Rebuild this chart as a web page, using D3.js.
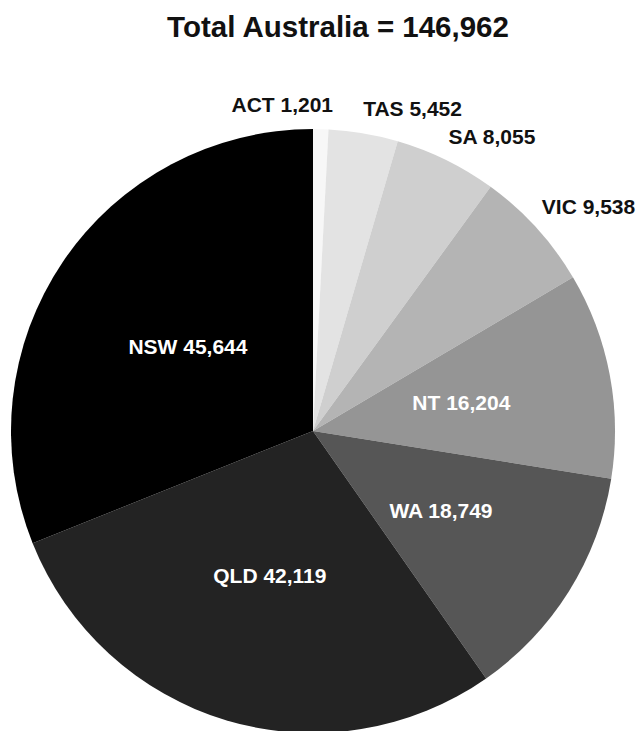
<!DOCTYPE html>
<html>
<head>
<meta charset="utf-8">
<script src="https://cdn.jsdelivr.net/npm/d3@7/dist/d3.min.js"></script>
<style>
  html, body { margin: 0; padding: 0; background: #fff; }
  svg { display: block; }
  text { font-family: "Liberation Sans", Arial, sans-serif; font-weight: bold; }
</style>
</head>
<body>
<svg id="chart" width="644" height="731"></svg>
<script>
// Offences by state/territory, clockwise from 12 o'clock
const states = ["ACT", "TAS", "SA", "VIC", "NT", "WA", "QLD", "NSW"];
const counts = [1201, 5452, 8055, 9538, 16204, 18749, 42119, 45644];
const fills  = ["#f7f7f7", "#e3e3e3", "#cfcfcf", "#b4b4b4", "#959595", "#565656", "#232323", "#000000"];
// Labels drawn inside their slice (the rest sit outside the rim)
const insideStates = ["NT", "WA", "QLD", "NSW"];
const titleText = "Total Australia = 146,962";

const cx = 313, cy = 431, R = 302;
const fmt = d3.format(",");

const svg = d3.select("#chart");

svg.append("text")
  .attr("x", 338).attr("y", 37)
  .attr("text-anchor", "middle")
  .attr("font-size", 29.5)
  .attr("fill", "#111")
  .text(titleText);

const data = states.map((s, i) => ({ state: s, value: counts[i], fill: fills[i] }));

const pie = d3.pie().sort(null).value(d => d.value);
const arcs = pie(data);

const arc = d3.arc().innerRadius(0).outerRadius(R);
const midArc = d3.arc().innerRadius(R * 0.5).outerRadius(R * 0.5);
const rimArc = d3.arc().innerRadius(R + 10).outerRadius(R + 10);

const g = svg.append("g").attr("transform", `translate(${cx},${cy})`);

g.selectAll("path.slice")
  .data(arcs)
  .join("path")
  .attr("class", "slice")
  .attr("d", arc)
  .attr("fill", d => d.data.fill);

const labelSize = 21;

// Inside labels at the slice's mid radius
g.selectAll("text.inside")
  .data(arcs.filter(d => insideStates.includes(d.data.state)))
  .join("text")
  .attr("class", "inside")
  .attr("transform", d => { const [x, y] = midArc.centroid(d); return `translate(${x},${y})`; })
  .attr("text-anchor", "middle")
  .attr("dy", "0.35em")
  .attr("font-size", labelSize)
  .attr("fill", "#fff")
  .text(d => `${d.data.state} ${fmt(d.data.value)}`);

// Outside labels just beyond the rim; the thin slice at the top is right-aligned
g.selectAll("text.outside")
  .data(arcs.filter(d => !insideStates.includes(d.data.state)))
  .join("text")
  .attr("class", "outside")
  .each(function (d) {
    const [x, y] = rimArc.centroid(d);
    const mid = (d.startAngle + d.endAngle) / 2;
    const nearTop = mid < 5 * Math.PI / 180;
    d3.select(this)
      .attr("x", nearTop ? x + 12 : x - 2)
      .attr("y", y - 7)
      .attr("text-anchor", nearTop ? "end" : "start");
  })
  .attr("font-size", labelSize)
  .attr("fill", "#111")
  .text(d => `${d.data.state} ${fmt(d.data.value)}`);
</script>
</body>
</html>
